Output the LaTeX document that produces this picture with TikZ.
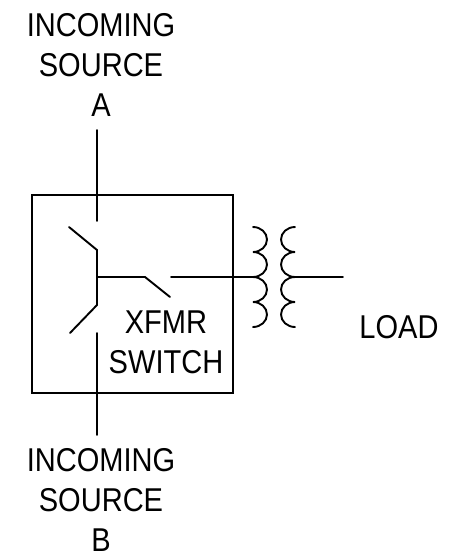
\documentclass[tikz,border=0pt]{standalone}
\usepackage{fontspec}
\setmainfont{Liberation Sans}[FakeStretch=0.88]
\usetikzlibrary{positioning}

\begin{document}
\begin{tikzpicture}[
x=1pt,
y=-1pt,
wire/.style={
  line width=1.9pt,
  line cap=round
  },
tag/.style={
  font=\fontsize{33}{40}\selectfont,
  align=center,
  inner sep=0pt
  },
coil/.style={
  x radius=14pt,
  y radius=12.5pt
  }
]
\useasboundingbox (0,0) rectangle (464,557);

% texts
\node[tag] (srcA) at (101,65) {INCOMING\\SOURCE\\A};
\node[tag] (srcB) at (101,500) {INCOMING\\SOURCE\\B};
\node[tag] (sw) at (166,342) {XFMR\\SWITCH};
\node[tag] (load) at (399,327) {LOAD};

% the switch cabinet
\draw[wire, line cap=butt] (32,195) rectangle (233,393);

% points of the circuit
\coordinate (aIn) at (97,130);
\coordinate (aCon) at (97,221);
\coordinate (aBlade) at (69,227);
\coordinate (aHinge) at (97,250);
\coordinate (bHinge) at (97,305);
\coordinate (bBlade) at (70,333);
\coordinate (bCon) at (97,333);
\coordinate (bIn) at (97,435);
\coordinate (tee) at (97,277);
\coordinate (oHinge) at (145,277);
\coordinate (oBlade) at (170,297);
\coordinate (oCon) at (171,277);
\coordinate (priTop) at (253,227);
\coordinate (pri) at (253,277);
\coordinate (secTop) at (295,227);
\coordinate (sec) at (295,277);
\coordinate (out) at (343,277);

\draw[wire] (aIn) -- (aCon);
\draw[wire] (aBlade) -- (aHinge) -- (bHinge) -- (bBlade);
\draw[wire] (bCon) -- (bIn);
\draw[wire] (tee) -- (oHinge) -- (oBlade);
\draw[wire] (oCon) -- (pri);
\draw[wire] (sec) -- (out);

% transformer windings
\draw[wire] (priTop)
  \foreach \k in {1,...,4}{ arc[coil, start angle=90, end angle=-90] };
\draw[wire] (secTop)
  \foreach \k in {1,...,4}{ arc[coil, start angle=90, end angle=270] };

\end{tikzpicture}
\end{document}
